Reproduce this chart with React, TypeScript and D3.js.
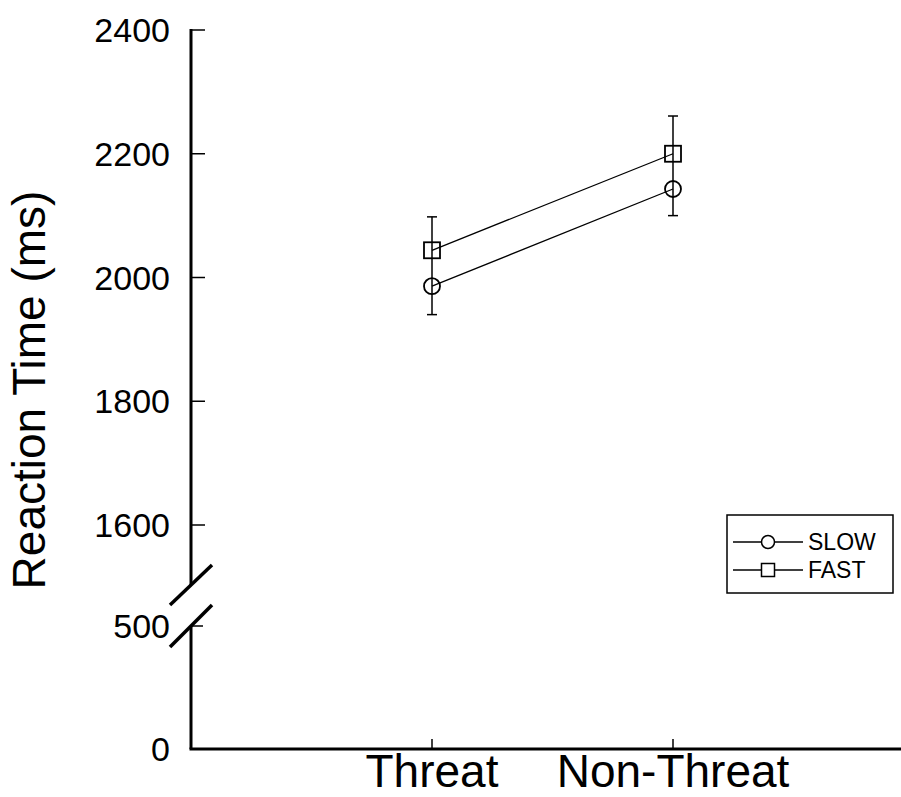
import React from "react";
import * as d3 from "d3";

const categories = ["Threat", "Non-Threat"];
const slowMeans = [1986, 2143];
const fastMeans = [2044, 2200];
const slowErrLow = [46, 43];
const fastErrHigh = [54, 61];
const upperTicks = [1600, 1800, 2000, 2200, 2400];
const lowerTicks = [0, 500];
const seriesNames = ["SLOW", "FAST"];

const W = 901;
const H = 797;
const AX = 191;
const FONT = "Arial, 'Liberation Sans', sans-serif";

export default function App() {
  const x = d3.scalePoint<string>().domain(categories).range([432, 673]);
  const yU = d3.scaleLinear().domain([1600, 2400]).range([525, 30]);
  const yL = d3.scaleLinear().domain([0, 500]).range([749, 626]);
  const line = d3
    .line<number>()
    .x((_, i) => x(categories[i]) as number)
    .y((d) => yU(d));

  return (
    <svg width={W} height={H} style={{ position: "absolute", left: 0, top: 0, background: "#fff" }}>
      {/* y axis label */}
      <text
        transform={`translate(45, 390) rotate(-90)`}
        textAnchor="middle"
        fontFamily={FONT}
        fontSize={46}
        fill="#000"
      >
        Reaction Time (ms)
      </text>

      {/* upper axis */}
      <line x1={AX} x2={AX} y1={yU(2400) - 1} y2={585} stroke="#000" strokeWidth={3} />
      {upperTicks.map((t) => (
        <g key={t}>
          <line x1={AX} x2={AX + 14} y1={yU(t)} y2={yU(t)} stroke="#000" strokeWidth={1.5} />
          <text x={170} y={yU(t)} dy="0.36em" textAnchor="end" fontFamily={FONT} fontSize={34} fill="#000">
            {t}
          </text>
        </g>
      ))}

      {/* lower axis */}
      <line x1={AX} x2={AX} y1={626} y2={yL(0)} stroke="#000" strokeWidth={3} />
      {lowerTicks.map((t) => (
        <g key={t}>
          {t !== 0 && (
            <line x1={AX} x2={AX + 12} y1={yL(t)} y2={yL(t)} stroke="#000" strokeWidth={1.5} />
          )}
          <text x={170} y={yL(t)} dy="0.36em" textAnchor="end" fontFamily={FONT} fontSize={34} fill="#000">
            {t}
          </text>
        </g>
      ))}

      {/* break marks */}
      <line x1={170} y1={605} x2={212} y2={565} stroke="#000" strokeWidth={3.5} />
      <line x1={170} y1={647} x2={212} y2={605} stroke="#000" strokeWidth={3.5} />

      {/* x axis */}
      <line x1={AX - 1.5} x2={W} y1={yL(0)} y2={yL(0)} stroke="#000" strokeWidth={3} />
      {categories.map((c) => (
        <g key={c}>
          <line x1={x(c)} x2={x(c)} y1={yL(0)} y2={yL(0) - 10} stroke="#000" strokeWidth={1.5} />
          <text x={x(c)} y={787} textAnchor="middle" fontFamily={FONT} fontSize={46} fill="#000">
            {c}
          </text>
        </g>
      ))}

      {/* error bars */}
      {categories.map((c, i) => {
        const cx = x(c) as number;
        const top = yU(fastMeans[i] + fastErrHigh[i]);
        const bot = yU(slowMeans[i] - slowErrLow[i]);
        return (
          <g key={c} stroke="#000" strokeWidth={1.5}>
            <line x1={cx} x2={cx} y1={top} y2={bot} />
            <line x1={cx - 5} x2={cx + 5} y1={top} y2={top} />
            <line x1={cx - 5} x2={cx + 5} y1={bot} y2={bot} />
          </g>
        );
      })}

      {/* series lines */}
      <path d={line(slowMeans) as string} fill="none" stroke="#000" strokeWidth={1.3} />
      <path d={line(fastMeans) as string} fill="none" stroke="#000" strokeWidth={1.3} />

      {/* markers */}
      {slowMeans.map((v, i) => (
        <circle key={"s" + i} cx={x(categories[i])} cy={yU(v)} r={8} fill="none" stroke="#000" strokeWidth={1.8} />
      ))}
      {fastMeans.map((v, i) => (
        <rect
          key={"f" + i}
          x={(x(categories[i]) as number) - 8}
          y={yU(v) - 8}
          width={16}
          height={16}
          fill="none"
          stroke="#000"
          strokeWidth={1.8}
        />
      ))}

      {/* legend */}
      <rect x={727} y={515} width={166} height={78} fill="none" stroke="#000" strokeWidth={1.5} />
      {seriesNames.map((s, i) => {
        const ly = 542 + i * 28;
        return (
          <g key={s}>
            <line x1={733} x2={803} y1={ly} y2={ly} stroke="#000" strokeWidth={1.3} />
            {i === 0 ? (
              <circle cx={768} cy={ly} r={6.5} fill="#fff" stroke="#000" strokeWidth={1.5} />
            ) : (
              <rect x={761.5} y={ly - 6.5} width={13} height={13} fill="#fff" stroke="#000" strokeWidth={1.5} />
            )}
            <text x={808} y={ly} dy="0.36em" fontFamily={FONT} fontSize={23} fill="#000">
              {s}
            </text>
          </g>
        );
      })}
    </svg>
  );
}
